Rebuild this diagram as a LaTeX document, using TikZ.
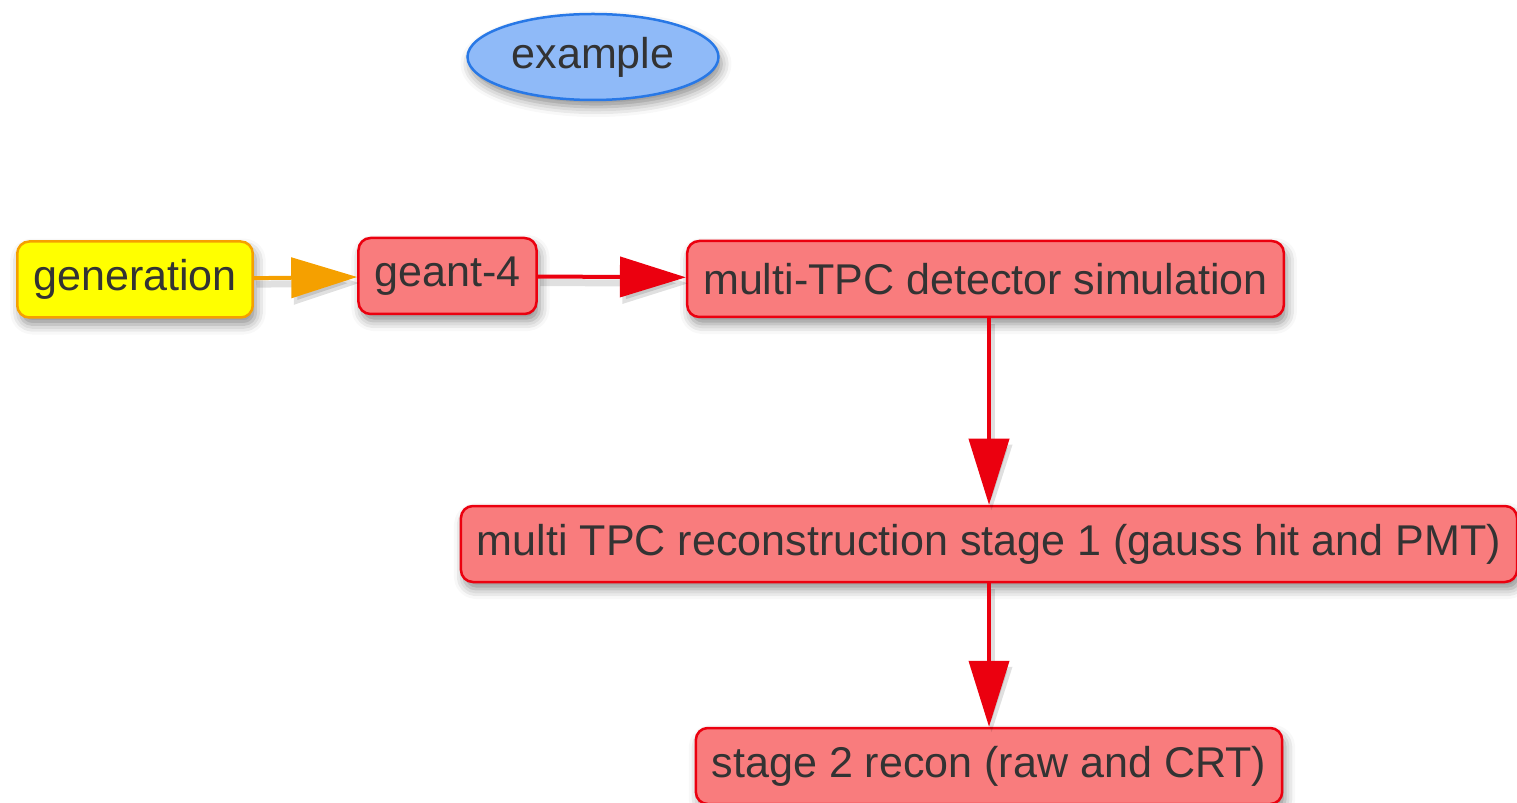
\documentclass[tikz,border=0pt]{standalone}
\usepackage{fontspec}
\setmainfont{Liberation Sans}
\usetikzlibrary{arrows.meta, shapes.geometric, shadows.blur}

\definecolor{redfill}{RGB}{249,124,125}
\definecolor{redline}{RGB}{235,0,15}
\definecolor{genfill}{RGB}{255,255,0}
\definecolor{genline}{RGB}{245,160,0}
\definecolor{exfill}{RGB}{143,186,248}
\definecolor{exline}{RGB}{40,120,230}
\definecolor{txt}{RGB}{51,51,51}

\begin{document}
\begin{tikzpicture}
            [>={Triangle[length=1.32cm, width=0.8cm]}, line width=0.08cm,
             font=\fontsize{24.5pt}{29pt}\selectfont, text=txt,
             soft/.style={blur shadow={shadow xshift=0.06cm, shadow yshift=-0.14cm, shadow blur radius=0.2cm, shadow opacity=45}},
             stagebox/.style={shape=rectangle, rounded corners=0.24cm, draw=redline, fill=redfill, line width=0.05cm, inner xsep=0.32cm, minimum height=1.52cm, soft},
             genbox/.style={stagebox, draw=genline, fill=genfill},
             lineshade/.style={preaction={draw=black, opacity=0.12, line width=0.14cm, transform canvas={xshift=0.05cm, yshift=-0.12cm}}},
             flowred/.style={draw=redline, lineshade},
             floworange/.style={draw=genline, lineshade}]
            \useasboundingbox (0, 0) rectangle (30.34, -16.06);

            \node[shape=ellipse, draw=exline, fill=exfill, line width=0.05cm, minimum width=5.02cm, minimum height=1.72cm, inner sep=0pt, soft] (ex) at (11.86, -1.14) {example};

            \node[genbox] (gen) at (2.70, -5.59) {generation};
            \node[stagebox] (geant) at (8.95, -5.52) {geant-4};
            \node[stagebox] (detsim) at (19.71, -5.58) {multi-TPC detector simulation};
            \node[stagebox] (reco1) at (19.78, -10.88) {multi TPC reconstruction stage 1 (gauss hit and PMT)};
            \node[stagebox] (reco2) at (19.78, -15.32) {stage 2 recon (raw and CRT)};

            \path [->] (gen) edge [floworange] (geant);
            \path [->] (geant) edge [flowred] (detsim);
            \path [->] (detsim.south -| reco1) edge [flowred] (reco1);
            \path [->] (reco1) edge [flowred] (reco2);
        \end{tikzpicture}
\end{document}
